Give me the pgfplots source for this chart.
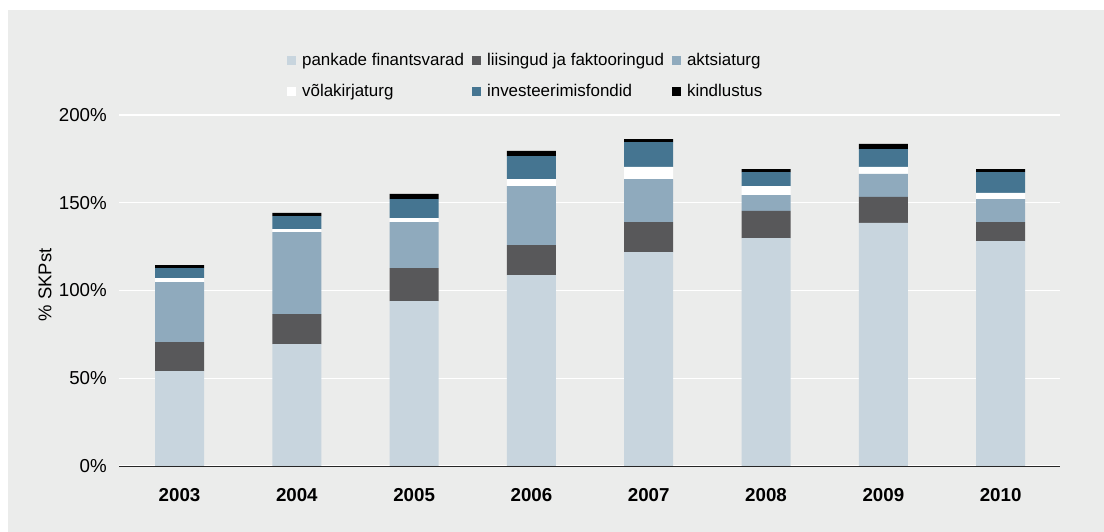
\documentclass[border=0pt]{standalone}
\usepackage{pgfplots}
\pgfplotsset{compat=1.18}
\usepackage{fontspec}
\setmainfont{Liberation Sans}
\definecolor{bg}{HTML}{EBECEB}
\definecolor{cA}{HTML}{C8D5DE}
\definecolor{cB}{HTML}{58585A}
\definecolor{cC}{HTML}{8FAABD}
\definecolor{cD}{HTML}{FFFFFF}
\definecolor{cE}{HTML}{457591}
\definecolor{cF}{HTML}{000000}
\begin{document}
\begin{tikzpicture}
\path[use as bounding box, fill=white] (0bp,0bp) rectangle (1104bp,532bp);
\fill[bg] (8bp,0bp) rectangle (1104bp,522bp);
\begin{axis}[
  at={(119bp,66bp)}, anchor=south west,
  scale only axis, width=941bp, height=351bp,
  xmin=-0.516, xmax=7.506, ymin=0, ymax=200,
  ybar stacked, bar width=49bp,
  axis x line*=bottom, axis y line*=left,
  y axis line style={draw=none},
  x axis line style={draw=black!85, line width=1bp, -},
  major tick length=0pt,
  ymajorgrids, grid style={white, line width=1.3bp},
  ytick={0,50,100,150,200},
  yticklabels={0\%,50\%,100\%,150\%,200\%},
  xtick={0,...,7},
  xticklabels={2003,2004,2005,2006,2007,2008,2009,2010},
  yticklabel style={font=\fontsize{18.8}{21}\selectfont, inner sep=0pt, xshift=-12bp},
  xticklabel style={font=\fontsize{18.8}{21}\selectfont\bfseries, inner sep=0pt, yshift=-22bp},
  ylabel={\% SKPst},
  every axis y label/.style={at={(axis description cs:-0.0786,0.516)}, rotate=90, anchor=center, font=\fontsize{18.5}{21}\selectfont},
  every axis plot/.append style={draw=none, legend image code/.code={\fill[##1] (0bp,-4.5bp) rectangle (9bp,4.5bp);}},
  legend columns=3,
  legend cell align=left,
  legend style={draw=none, fill=none, at={(axis description cs:0.1753,1.187)}, anchor=north west,
    font=\fontsize{17}{20}\selectfont,
    /tikz/every odd column/.append style={column sep=4bp},
    /tikz/every even column/.append style={column sep=6bp}, row sep=13bp},
]
\addplot[fill=cA] coordinates {(0,54.1) (1,69.5) (2,94.0) (3,108.8) (4,121.9) (5,129.9) (6,138.5) (7,128.2)};
\addplot[fill=cB] coordinates {(0,16.5) (1,17.1) (2,18.8) (3,17.1) (4,17.1) (5,15.4) (6,14.8) (7,10.8)};
\addplot[fill=cC] coordinates {(0,34.1) (1,46.7) (2,26.2) (3,33.6) (4,24.5) (5,9.1) (6,13.1) (7,13.1)};
\addplot[fill=cD] coordinates {(0,2.3) (1,1.7) (2,2.3) (3,4.0) (4,6.9) (5,5.1) (6,4.0) (7,3.5)};
\addplot[fill=cE] coordinates {(0,5.7) (1,7.4) (2,10.8) (3,13.1) (4,14.2) (5,8.0) (6,10.2) (7,11.9)};
\addplot[fill=cF] coordinates {(0,1.7) (1,1.8) (2,2.9) (3,2.9) (4,1.7) (5,1.7) (6,2.9) (7,1.7)};
\legend{pankade finantsvarad, liisingud ja faktooringud, aktsiaturg, võlakirjaturg, investeerimisfondid, kindlustus}
\end{axis}
\end{tikzpicture}
\end{document}
